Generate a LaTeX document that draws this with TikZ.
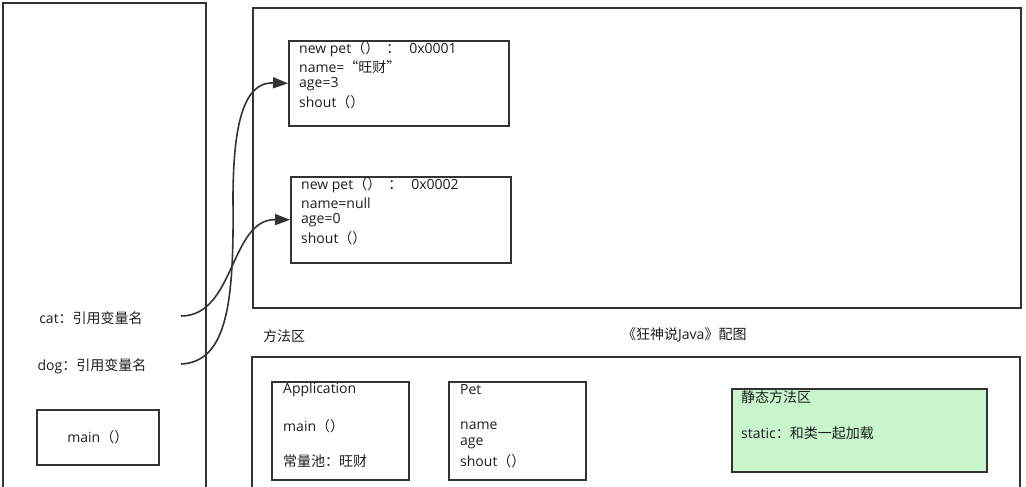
\documentclass[tikz,border=0pt]{standalone}
\usepackage{fontspec}
\setmainfont{Open Sans}
\newfontfamily\cjkfont{Noto Sans CJK SC}
\newcommand{\C}[1]{{\cjkfont #1}}
\usetikzlibrary{arrows.meta}
\definecolor{ink}{HTML}{333333}
\definecolor{txtc}{HTML}{1E1E1E}
\definecolor{greenfill}{HTML}{C9F5CD}
\tikzset{
  box/.style={draw=ink, line width=1.6pt, fill=white, inner sep=0pt, anchor=north west},
  txt/.style={text=txtc, font=\fontsize{14}{17}\selectfont, inner sep=0pt, anchor=west},
  ref/.style={draw=ink, line width=1.6pt, -{Triangle[length=15pt,width=11pt]}},
}
\begin{document}
\begin{tikzpicture}[x=1pt,y=-1pt]
\useasboundingbox (0,0) rectangle (1026,487);
\fill[white] (0,0) rectangle (1026,487);
% stack
\draw[draw=ink, line width=1.6pt] (3,490) -- (3,3) -- (206,3) -- (206,490);
% heap
\node[box, minimum width=768pt, minimum height=300pt] (heap) at (252,7) {};
% method area
\draw[draw=ink, line width=1.6pt] (252,490) -- (252,357) -- (1020,357) -- (1020,490);
% objects
\node[box, minimum width=220pt, minimum height=85pt] (obj1) at (288,40) {};
\node[txt] (o1a) at (299,49) {new pet\C{（）}\hspace{7pt}\C{：}\hspace{9pt}0x0001};
\node[txt] (o1b) at (299,67) {name=\C{“旺财”}};
\node[txt] (o1c) at (299,84) {age=3};
\node[txt] (o1d) at (299,102) {shout\C{（）}};
\node[box, minimum width=220pt, minimum height=86pt] (obj2) at (290,176) {};
\node[txt] (o2a) at (301,185) {new pet\C{（）}\hspace{7pt}\C{：}\hspace{9pt}0x0002};
\node[txt] (o2b) at (301,203) {name=null};
\node[txt] (o2c) at (301,220) {age=0};
\node[txt] (o2d) at (301,238) {shout\C{（）}};
% stack content
\node[txt, anchor=center] (cat) at (91,318) {cat\C{：引用变量名}};
\node[txt, anchor=center] (dog) at (92,366) {dog\C{：引用变量名}};
\coordinate (catend) at (181,316);
\coordinate (dogend) at (181,364);
\node[box, minimum width=122pt, minimum height=55pt] (mainbox) at (36,409) {};
\node[txt, anchor=center] (maintxt) at (mainbox.center) {main\C{（）}};
% references
\draw[ref] (catend) .. controls (235,316) and (230,219) .. (obj2.west);
\draw[ref] (dogend) .. controls (228,362) and (234,300) .. (233,200) .. controls (233,120) and (245,82) .. (obj1.west);
% labels
\node[txt] (fff) at (263,336) {\C{方法区}};
\node[txt] (title) at (622,335) {\C{《狂神说}Java\C{》配图}};
% method area content
\node[box, minimum width=137pt, minimum height=98pt] (app) at (271,381) {};
\node[txt] (appa) at (283,390) {Application};
\node[txt] (appb) at (283,426) {main\C{（）}};
\node[txt] (appc) at (283,461) {\C{常量池：旺财}};
\node[box, minimum width=137pt, minimum height=98pt] (pet) at (448,381) {};
\node[txt] (peta) at (460,390) {Pet};
\node[txt] (petb) at (460,426) {name};
\node[txt] (petc) at (460,443) {age};
\node[txt] (petd) at (460,461) {shout\C{（）}};
\node[box, fill=greenfill, minimum width=255pt, minimum height=83pt] (static) at (731,388) {};
\node[txt] (sta) at (741,397) {\C{静态方法区}};
\node[txt] (stb) at (741,433) {static\C{：和类一起加载}};
\end{tikzpicture}
\end{document}
